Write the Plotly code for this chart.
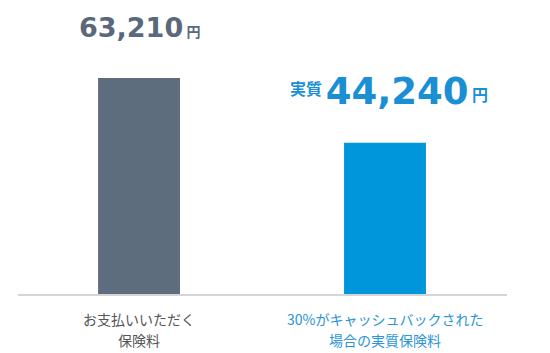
import plotly.graph_objects as go

categories = ["お支払いいただく<br>保険料", "30%がキャッシュバックされた<br>場合の実質保険料"]
values = [63210, 44240]
value_labels = ["63,210", "44,240"]
prefixes = ["", "実質"]
colors = ["#5e6d7e", "#0096dc"]
label_colors = ["#555555", "#2a94d6"]

x = [0, 1]
fig = go.Figure()
fig.add_trace(go.Bar(x=x, y=values, marker=dict(color=colors, line=dict(width=0)),
                     width=0.333, hoverinfo="skip"))

num_sizes = [27, 37]
yen_sizes = [14, 16]
yen_shift = [0, 3]
num_colors = ["#5a687b", "#1a8fd4"]
yshift = [33, 28]
xshift = [0, 4]
for i in range(2):
    pre = (f"<span style='font-size:16px;font-family:Noto Sans CJK JP;baseline-shift:9px'>"
           f"<b>{prefixes[i]}</b> </span>") if prefixes[i] else ""
    txt = (f"{pre}{value_labels[i]}"
           f"<span style='font-size:{yen_sizes[i]}px;font-family:Noto Sans CJK JP;"
           f"baseline-shift:{yen_shift[i]}px'> <b>円</b></span>")
    fig.add_annotation(x=x[i], y=values[i], text=txt, showarrow=False,
                       yanchor="bottom", yshift=yshift[i], xshift=xshift[i],
                       font=dict(size=num_sizes[i], color=num_colors[i],
                                 family="DejaVu Sans", weight="bold"))
    for j, line in enumerate(categories[i].split("<br>")):
        fig.add_annotation(x=x[i], y=0, text=line, showarrow=False,
                           yanchor="middle", yshift=-25 - 21 * j, align="center",
                           font=dict(size=14, color=label_colors[i], family="Noto Sans CJK JP"))

fig.update_layout(
    width=550, height=353, margin=dict(l=18, r=43, t=0, b=59),
    paper_bgcolor="white", plot_bgcolor="white", showlegend=False,
    xaxis=dict(range=[-0.492, 1.496], showticklabels=False, showgrid=False, zeroline=False,
               showline=True, linecolor="#d5d5d5", linewidth=2, fixedrange=True),
    yaxis=dict(range=[0, 86036], visible=False, fixedrange=True),
)
fig.write_html("out.html")
